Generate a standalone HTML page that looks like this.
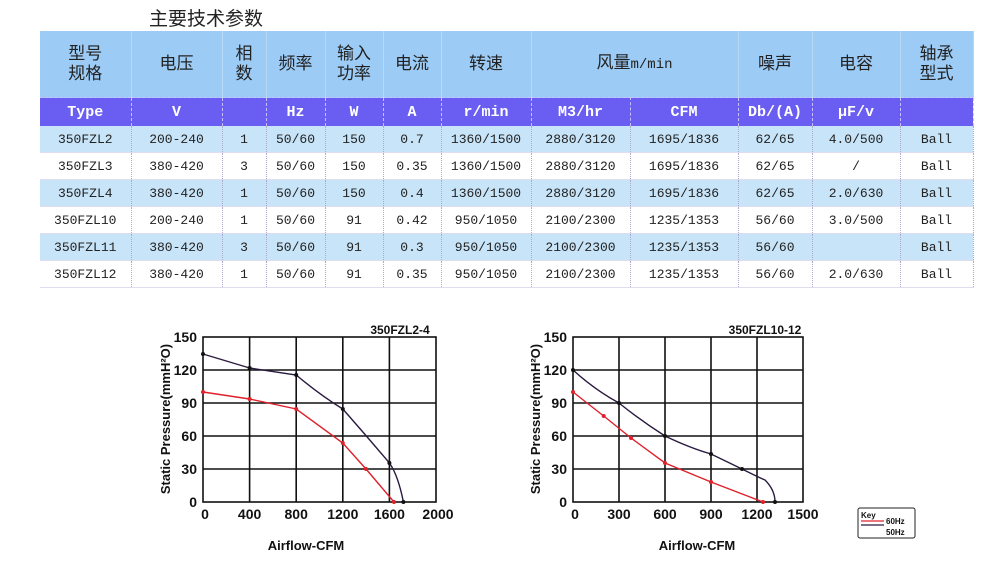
<!DOCTYPE html><html><head><meta charset="utf-8"><style>
body{margin:0;width:998px;height:582px;background:#fff;position:relative;overflow:hidden;font-family:"Liberation Sans","Noto Sans CJK SC",sans-serif}
.t{position:absolute;left:149px;top:4px;font-size:19px;color:#222}
table{position:absolute;left:40px;top:31px;border-collapse:collapse;width:933px;table-layout:fixed;font-family:"Liberation Mono","Noto Sans CJK SC",monospace}
td{text-align:center;padding:0;font-size:13px;color:#222;border-right:1px dotted #aac;}
tr.h td{background:#9ccbf5;height:66px;font-family:"Liberation Sans","Noto Sans CJK SC",sans-serif;font-size:17px;line-height:20px;border-right:1px solid #b8d8f5}
tr.p td{background:#6a5ef2;color:#fff;height:28px;font-size:15px;font-weight:bold;border-right:1px dashed #c8c0ff;border-top:1px dashed #c8c0ff}
tr.a td{background:#c8e4f8;height:26px}
tr.b td{background:#fff;height:26px}
tr.a,tr.b{border-bottom:1px solid #dde}
</style></head><body>
<div class="t">主要技术参数</div>
<table>
<colgroup><col style="width:91px"><col style="width:91px"><col style="width:44px"><col style="width:59px"><col style="width:58px"><col style="width:58px"><col style="width:90px"><col style="width:99px"><col style="width:108px"><col style="width:74px"><col style="width:88px"><col style="width:73px"></colgroup>
<tr class="h"><td>型号<br>规格</td><td>电压</td><td>相<br>数</td><td>频率</td><td>输入<br>功率</td><td>电流</td><td>转速</td><td colspan="2">风量<span style="font-family:'Liberation Mono',monospace;font-size:14px">m/min</span></td><td>噪声</td><td>电容</td><td>轴承<br>型式</td></tr>
<tr class="p"><td>Type</td><td>V</td><td></td><td>Hz</td><td>W</td><td>A</td><td>r/min</td><td>M3/hr</td><td>CFM</td><td>Db/(A)</td><td>μF/v</td><td></td></tr>
<tr class="a"><td>350FZL2</td><td>200-240</td><td>1</td><td>50/60</td><td>150</td><td>0.7</td><td>1360/1500</td><td>2880/3120</td><td>1695/1836</td><td>62/65</td><td>4.0/500</td><td>Ball</td></tr>
<tr class="b"><td>350FZL3</td><td>380-420</td><td>3</td><td>50/60</td><td>150</td><td>0.35</td><td>1360/1500</td><td>2880/3120</td><td>1695/1836</td><td>62/65</td><td>/</td><td>Ball</td></tr>
<tr class="a"><td>350FZL4</td><td>380-420</td><td>1</td><td>50/60</td><td>150</td><td>0.4</td><td>1360/1500</td><td>2880/3120</td><td>1695/1836</td><td>62/65</td><td>2.0/630</td><td>Ball</td></tr>
<tr class="b"><td>350FZL10</td><td>200-240</td><td>1</td><td>50/60</td><td>91</td><td>0.42</td><td>950/1050</td><td>2100/2300</td><td>1235/1353</td><td>56/60</td><td>3.0/500</td><td>Ball</td></tr>
<tr class="a"><td>350FZL11</td><td>380-420</td><td>3</td><td>50/60</td><td>91</td><td>0.3</td><td>950/1050</td><td>2100/2300</td><td>1235/1353</td><td>56/60</td><td></td><td>Ball</td></tr>
<tr class="b"><td>350FZL12</td><td>380-420</td><td>1</td><td>50/60</td><td>91</td><td>0.35</td><td>950/1050</td><td>2100/2300</td><td>1235/1353</td><td>56/60</td><td>2.0/630</td><td>Ball</td></tr>
</table>
<svg width="998" height="582" style="position:absolute;left:0;top:0" font-family="Liberation Sans,sans-serif" font-weight="bold">
<g stroke="#111" stroke-width="1.6" fill="none">
<rect x="203" y="337" width="233" height="165"/>
<path d="M249.6 337V502M296.2 337V502M342.8 337V502M389.4 337V502M203 370H436M203 403H436M203 436H436M203 469H436"/>
<rect x="573" y="337" width="230" height="165"/>
<path d="M619 337V502M665 337V502M711 337V502M757 337V502M573 370H803M573 403H803M573 436H803M573 469H803"/>
</g>
<g font-size="14" fill="#111" text-anchor="end">
<text x="197" y="342">150</text><text x="197" y="375">120</text><text x="197" y="408">90</text><text x="197" y="441">60</text><text x="197" y="474">30</text><text x="197" y="507">0</text>
<text x="567" y="342">150</text><text x="567" y="375">120</text><text x="567" y="408">90</text><text x="567" y="441">60</text><text x="567" y="474">30</text><text x="567" y="507">0</text>
</g>
<g font-size="14" fill="#111" text-anchor="middle">
<text x="205" y="519">0</text><text x="249.6" y="519">400</text><text x="296.2" y="519">800</text><text x="342.8" y="519">1200</text><text x="389.4" y="519">1600</text><text x="438" y="519">2000</text>
<text x="575" y="519">0</text><text x="619" y="519">300</text><text x="665" y="519">600</text><text x="711" y="519">900</text><text x="757" y="519">1200</text><text x="803" y="519">1500</text>
<text x="306" y="550" font-size="13">Airflow-CFM</text><text x="697" y="550" font-size="13">Airflow-CFM</text>
<text x="400" y="334" font-size="12">350FZL2-4</text><text x="765" y="334" font-size="12">350FZL10-12</text>
<text transform="translate(170,419) rotate(-90)" font-size="13">Static Pressure(mmH²O)</text>
<text transform="translate(540,419) rotate(-90)" font-size="13">Static Pressure(mmH²O)</text>
</g>
<g fill="none" stroke-width="1.4">
<path stroke="#2a1a40" d="M203 354 L249.6 368 L296.2 375 Q320 395 342.8 409 Q370 440 389.4 463 Q398 475 403.4 502"/>
<path stroke="#e0202a" d="M203 392 L249.6 399 L296.2 409 L342.8 443 L366 469 L394 502"/>
<path stroke="#2a1a40" d="M573 370 Q595 390 619 403 Q640 420 665 436 Q690 448 711 454 L742 469 Q760 478 765 480 Q775 490 775 502"/>
<path stroke="#e0202a" d="M573 392 L603.7 416 L631 438 L665 463 L711 482 L763 502"/>
</g>
<g fill="#111"><circle cx="203" cy="354" r="2"/><circle cx="249.6" cy="368" r="2"/><circle cx="296.2" cy="375" r="2"/><circle cx="342.8" cy="409" r="2"/><circle cx="389.4" cy="463" r="2"/><circle cx="403.4" cy="502" r="2"/>
<circle cx="573" cy="370" r="2"/><circle cx="619" cy="403" r="2"/><circle cx="665" cy="436" r="2"/><circle cx="711" cy="454" r="2"/><circle cx="742" cy="469" r="2"/><circle cx="775" cy="502" r="2"/></g>
<g fill="#e0202a"><circle cx="203" cy="392" r="2"/><circle cx="249.6" cy="399" r="2"/><circle cx="296.2" cy="409" r="2"/><circle cx="342.8" cy="443" r="2"/><circle cx="366" cy="469" r="2"/><circle cx="394" cy="502" r="2"/>
<circle cx="573" cy="392" r="2"/><circle cx="603.7" cy="416" r="2"/><circle cx="631" cy="438" r="2"/><circle cx="665" cy="463" r="2"/><circle cx="711" cy="482" r="2"/><circle cx="763" cy="502" r="2"/></g>
<rect x="858" y="508" width="57" height="30" fill="none" stroke="#222" stroke-width="1" rx="2"/>
<text x="861" y="518" font-size="8" fill="#111">Key</text>
<line x1="861" y1="521" x2="884" y2="521" stroke="#e0202a" stroke-width="1.2"/>
<line x1="861" y1="525" x2="884" y2="525" stroke="#2a1a40" stroke-width="1.2"/>
<text x="886" y="524" font-size="8" fill="#111">60Hz</text><text x="886" y="535" font-size="8" fill="#111">50Hz</text>
</svg>
</body></html>
